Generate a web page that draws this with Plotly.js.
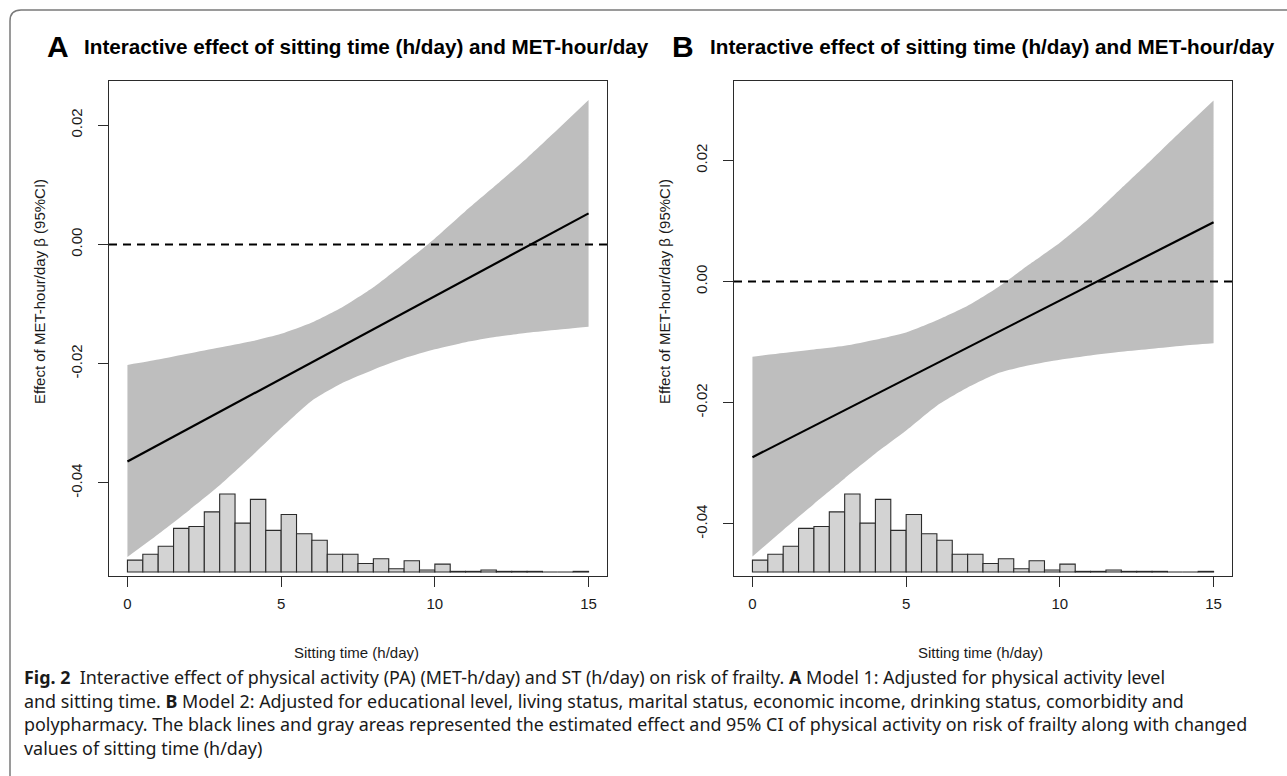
<!DOCTYPE html>
<html>
<head>
<meta charset="utf-8">
<script src="https://cdn.plot.ly/plotly-3.0.1.min.js"></script>
<style>
  html, body { margin: 0; padding: 0; background: #ffffff; }
  #chart { width: 1287px; height: 776px; }
</style>
</head>
<body>
<div id="chart"></div>
<script>
// ---------------- data ----------------
const sittingGrid = [0, 1, 2, 3, 4, 5, 6, 7, 8, 9, 10, 11, 12, 13, 14, 15];

// Panel A (Model 1)
const lineA_x = [0, 15];
const lineA_y = [-0.0364, 0.0052];
const upperA = [-0.0202, -0.0193, -0.0183, -0.0173, -0.0163, -0.0150, -0.0131, -0.0105,
                -0.0072, -0.0032, 0.0010, 0.0056, 0.0100, 0.0145, 0.0193, 0.0242];
const lowerA = [-0.0524, -0.0486, -0.0446, -0.0404, -0.0357, -0.0308, -0.0262, -0.0232,
                -0.0210, -0.0191, -0.0176, -0.0164, -0.0155, -0.0148, -0.0143, -0.0138];

// Panel B (Model 2)
const lineB_x = [0, 15];
const lineB_y = [-0.0290, 0.0098];
const upperB = [-0.0124, -0.0118, -0.0112, -0.0106, -0.0096, -0.0084, -0.0064, -0.0040,
                -0.0009, 0.0028, 0.0064, 0.0106, 0.0154, 0.0202, 0.0251, 0.0299];
const lowerB = [-0.0454, -0.0410, -0.0367, -0.0325, -0.0284, -0.0246, -0.0205, -0.0175,
                -0.0151, -0.0138, -0.0129, -0.0122, -0.0116, -0.0111, -0.0106, -0.0102];

// Histogram of sitting time (share of sample, %), bins of 0.5 h starting at these edges
const histBinLeft = [0, 0.5, 1, 1.5, 2, 2.5, 3, 3.5, 4, 4.5, 5, 5.5, 6, 6.5, 7, 7.5,
                     8, 8.5, 9, 9.5, 10, 10.5, 11, 11.5, 12, 12.5, 13, 13.5, 14, 14.5];
const histPct = [1.8, 2.7, 3.9, 6.6, 6.9, 9.1, 11.8, 7.4, 11.0, 6.3, 8.7, 5.8, 4.8, 2.7, 2.7, 1.3,
                 2.0, 0.5, 1.7, 0.3, 1.2, 0.1, 0.1, 0.3, 0.1, 0.1, 0.1, 0, 0, 0.1];
const histBinWidth = 0.5;

const xTicks = [0, 5, 10, 15];
const xTickText = ["0", "5", "10", "15"];
const yTicks = [-0.04, -0.02, 0, 0.02];
const yTickText = ["-0.04", "-0.02", "0.00", "0.02"];

const panelTitle = "Interactive effect of sitting time (h/day) and MET-hour/day";
const xTitle = "Sitting time (h/day)";
const yTitle = "Effect of MET-hour/day \u03b2 (95%CI)";
const captionLines = [
  "<b>Fig. 2</b>  Interactive effect of physical activity (PA) (MET-h/day) and ST (h/day) on risk of frailty. <b>A</b> Model 1: Adjusted for physical activity level",
  "and sitting time. <b>B</b> Model 2: Adjusted for educational level, living status, marital status, economic income, drinking status, comorbidity and",
  "polypharmacy. The black lines and gray areas represented the estimated effect and 95% CI of physical activity on risk of frailty along with changed",
  "values of sitting time (h/day)"
];

// ---------------- layout helpers ----------------
const W = 1287, H = 776;
const px = v => v / W;
const py = v => 1 - v / H;

const SANS = "Liberation Sans, Arial, sans-serif";
const axisFont = { family: SANS, size: 15, color: "#1a1a1a" };
const CI_COLOR = "#bebebe";
const HIST_FILL = "#d3d3d3";
const EDGE = "#2b2b2b";

const histCenters = histBinLeft.map(v => v + histBinWidth / 2);

function panelTraces(xa, ya, yh, lower, upper, lx, ly) {
  return [
    { type: "scatter", mode: "lines", x: sittingGrid, y: lower, xaxis: xa, yaxis: ya,
      line: { width: 0, color: CI_COLOR, shape: "spline", smoothing: 0.6 }, hoverinfo: "skip", showlegend: false },
    { type: "scatter", mode: "lines", x: sittingGrid, y: upper, xaxis: xa, yaxis: ya, fill: "tonexty",
      fillcolor: CI_COLOR, line: { width: 0, color: CI_COLOR, shape: "spline", smoothing: 0.6 },
      hoverinfo: "skip", showlegend: false },
    { type: "scatter", mode: "lines", x: lx, y: ly, xaxis: xa, yaxis: ya,
      line: { color: "#000000", width: 2.2 }, showlegend: false },
    { type: "bar", x: histCenters, y: histPct, width: histBinWidth, xaxis: xa, yaxis: yh,
      marker: { color: HIST_FILL, line: { color: EDGE, width: 1.1 } }, showlegend: false }
  ];
}

const data = [].concat(
  panelTraces("x", "y", "y3", lowerA, upperA, lineA_x, lineA_y),
  panelTraces("x2", "y2", "y4", lowerB, upperB, lineB_x, lineB_y)
);

const boxTop = 81, boxBottom = 576;
const yDomain = [py(boxBottom), py(boxTop)];

function xAxis(domain) {
  return {
    domain: domain, range: [-0.6, 15.6], tickvals: xTicks, ticktext: xTickText,
    ticks: "outside", ticklen: 10, tickwidth: 1, tickcolor: EDGE,
    showline: true, mirror: true, linecolor: EDGE, linewidth: 1.2,
    showgrid: false, zeroline: false, tickfont: axisFont, ticklabelstandoff: 4, fixedrange: true
  };
}
function yAxis(range, anchor) {
  return {
    domain: yDomain, range: range, anchor: anchor, tickvals: yTicks, ticktext: yTickText,
    ticks: "outside", ticklen: 10, tickwidth: 1, tickcolor: EDGE, tickangle: -90,
    showline: true, mirror: true, linecolor: EDGE, linewidth: 1.2,
    showgrid: false, zeroline: false, tickfont: axisFont, ticklabelstandoff: 10, fixedrange: true
  };
}
function histAxis(overlay, anchor) {
  return { domain: yDomain, overlaying: overlay, anchor: anchor, range: [-0.6, 74.3],
           visible: false, showgrid: false, zeroline: false, fixedrange: true };
}

function ann(o) { return Object.assign({ xref: "paper", yref: "paper", showarrow: false }, o); }

const titleY = 46;
const annotations = [
  ann({ text: "<b>A</b>", x: px(45), y: py(titleY), xanchor: "left", yanchor: "middle",
    font: { family: SANS, size: 30, color: "#000" } }),
  ann({ text: "<b>" + panelTitle + "</b>", x: px(82), y: py(titleY), xanchor: "left", yanchor: "middle",
    font: { family: SANS, size: 20.7, color: "#000" } }),
  ann({ text: "<b>B</b>", x: px(670), y: py(titleY), xanchor: "left", yanchor: "middle",
    font: { family: SANS, size: 30, color: "#000" } }),
  ann({ text: "<b>" + panelTitle + "</b>", x: px(708), y: py(titleY), xanchor: "left", yanchor: "middle",
    font: { family: SANS, size: 20.7, color: "#000" } }),
  ann({ text: xTitle, x: px(356), y: py(652), xanchor: "center", yanchor: "middle", font: axisFont }),
  ann({ text: xTitle, x: px(981), y: py(652), xanchor: "center", yanchor: "middle", font: axisFont }),
  ann({ text: yTitle, x: px(39), y: py(292), xanchor: "center", yanchor: "middle", textangle: -90, font: axisFont }),
  ann({ text: yTitle, x: px(664), y: py(292), xanchor: "center", yanchor: "middle", textangle: -90, font: axisFont })
];
const capY = [677, 701, 724, 748];
captionLines.forEach((t, i) => {
  annotations.push(ann({ text: t, x: px(22), y: py(capY[i]), xanchor: "left", yanchor: "middle",
    font: { family: "Noto Sans, Open Sans, sans-serif", size: 17.9, color: "#1a1a1a" } }));
});

const shapes = [
  { type: "line", xref: "x domain", yref: "y", x0: 0, x1: 1, y0: 0, y1: 0,
    line: { color: "#000", width: 2, dash: "8px,6px" } },
  { type: "line", xref: "x2 domain", yref: "y2", x0: 0, x1: 1, y0: 0, y1: 0,
    line: { color: "#000", width: 2, dash: "8px,6px" } },
  { type: "path", xref: "paper", yref: "paper",
    path: "M " + px(10) + " " + py(776) + " L " + px(10) + " " + py(21) +
          " Q " + px(10) + " " + py(10) + " " + px(21) + " " + py(10) + " L " + px(1287) + " " + py(10),
    line: { color: "#7a7a7a", width: 1.5 } }
];

const layout = {
  width: W, height: H, autosize: false,
  margin: { l: 0, r: 0, t: 0, b: 0, pad: 0 },
  paper_bgcolor: "#ffffff", plot_bgcolor: "rgba(0,0,0,0)",
  showlegend: false, bargap: 0,
  xaxis: xAxis([px(109), px(607)]),
  yaxis: yAxis([-0.0556, 0.0274], "x"),
  xaxis2: xAxis([px(734), px(1232)]),
  yaxis2: yAxis([-0.0486, 0.0331], "x2"),
  yaxis3: histAxis("y", "x"),
  yaxis4: histAxis("y2", "x2"),
  annotations: annotations,
  shapes: shapes
};

Plotly.newPlot("chart", data, layout, { displayModeBar: false, staticPlot: true });
</script>
</body>
</html>
